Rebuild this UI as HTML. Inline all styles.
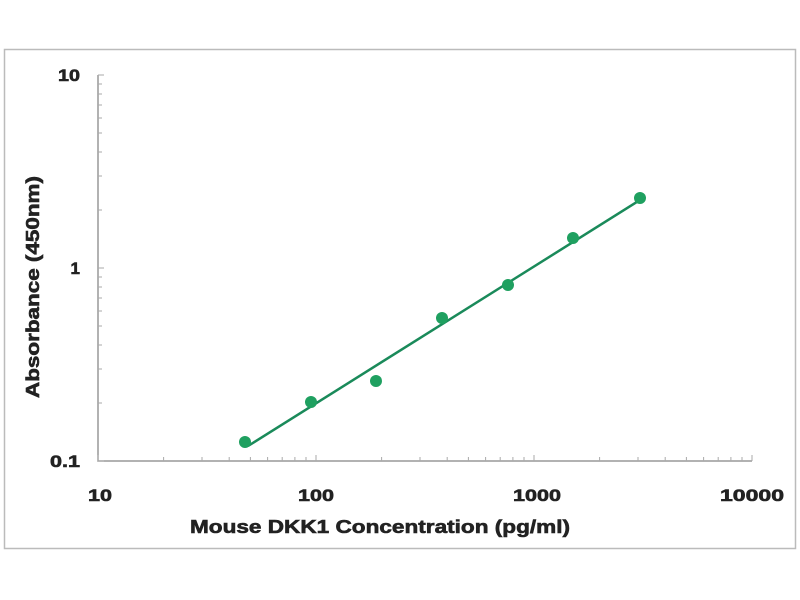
<!DOCTYPE html>
<html><head><style>body{margin:0;background:#fff}svg{display:block}</style></head><body>
<svg width="800" height="600" xmlns="http://www.w3.org/2000/svg" font-family="Liberation Sans, sans-serif" font-weight="bold">
<rect x="4.5" y="49.5" width="791" height="499" fill="#fff" stroke="#bbb" stroke-width="1.5"/>
<g stroke="#999" stroke-width="1.5" fill="none">
<path d="M98 75 V461 H752"/>
</g>
<g stroke="#aaa" stroke-width="1">
<path d="M98 461v-6M163.6 461v-4M202 461v-4M229.2 461v-4M250.4 461v-4M267.6 461v-4M282.2 461v-4M294.9 461v-4M306 461v-4M316 461v-6M381.6 461v-4M420 461v-4M447.2 461v-4M468.4 461v-4M485.6 461v-4M500.2 461v-4M512.9 461v-4M524 461v-4M534 461v-6M599.6 461v-4M638 461v-4M665.2 461v-4M686.4 461v-4M703.6 461v-4M718.2 461v-4M730.9 461v-4M742 461v-4M752 461v-6"/>
<path d="M98 461h6M98 403h4M98 369h4M98 345h4M98 326h4M98 311h4M98 298h4M98 287h4M98 277h4M98 268h6M98 210h4M98 176h4M98 152h4M98 133h4M98 118h4M98 105h4M98 94h4M98 84h4M98 75h6"/>
</g>
<g font-size="17" fill="#222" stroke="#222" stroke-width="0.6" text-anchor="end">
<text x="80" y="81" textLength="22" lengthAdjust="spacingAndGlyphs">10</text>
<text x="80" y="274">1</text>
<text x="80" y="467" textLength="30" lengthAdjust="spacingAndGlyphs">0.1</text>
</g>
<g font-size="17" fill="#222" stroke="#222" stroke-width="0.6" text-anchor="middle">
<text x="100" y="501" textLength="24" lengthAdjust="spacingAndGlyphs">10</text>
<text x="316" y="501" textLength="36" lengthAdjust="spacingAndGlyphs">100</text>
<text x="537" y="501" textLength="48" lengthAdjust="spacingAndGlyphs">1000</text>
<text x="752" y="501" textLength="64" lengthAdjust="spacingAndGlyphs">10000</text>
<text x="380" y="533" font-size="18" textLength="380" lengthAdjust="spacingAndGlyphs">Mouse DKK1 Concentration (pg/ml)</text>
<text transform="translate(39,287) rotate(-90)" font-size="18" textLength="222" lengthAdjust="spacingAndGlyphs">Absorbance (450nm)</text>
</g>
<path d="M248 446 L640 200" stroke="#1a8a5a" stroke-width="2.5" fill="none"/>
<g fill="#1fa060">
<circle cx="245" cy="442" r="6"/>
<circle cx="311" cy="402" r="6"/>
<circle cx="376" cy="381" r="6"/>
<circle cx="442" cy="318" r="6"/>
<circle cx="508" cy="285" r="6"/>
<circle cx="573" cy="238" r="6"/>
<circle cx="640" cy="198" r="6"/>
</g>
</svg>
</body></html>
